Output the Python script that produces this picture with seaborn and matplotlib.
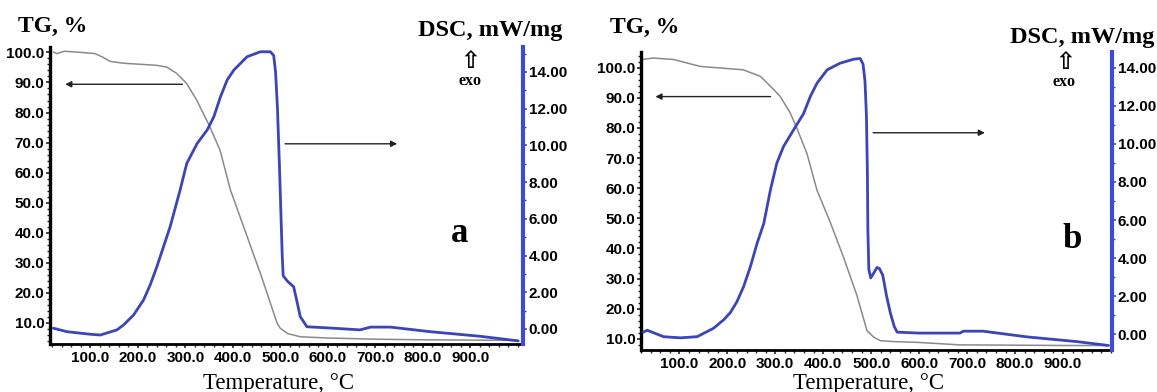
import numpy as np
import pandas as pd
import matplotlib
matplotlib.use("Agg")
import matplotlib.pyplot as plt
from matplotlib.ticker import MultipleLocator, FormatStrFormatter
import seaborn as sns

# ---------------- data ----------------
# Panel a
temp_a_tg = [22, 30, 45, 80, 110, 125, 142, 170, 200, 240, 261, 282, 303, 324, 350,
             373, 395, 430, 460, 493, 500, 515, 542, 600, 700, 800, 900, 1000]
tg_a = [100.1, 99.6, 100.4, 100.0, 99.6, 98.5, 97.0, 96.4, 96.1, 95.7, 95.1, 93.0,
        89.6, 84.1, 75.8, 67.5, 54.2, 38.8, 25.6, 10.0, 8.2, 6.5, 5.4, 5.0, 4.6, 4.4, 4.3, 4.2]

temp_a_dsc = [22, 51, 100, 121, 156, 170, 191, 212, 226, 240, 254, 268, 289, 303, 325,
              346, 360, 374, 388, 402, 430, 458, 479, 486, 490, 494, 498, 501, 504,
              506, 515, 528, 535, 542, 556, 605, 668, 690, 732, 816, 921, 1001]
dsc_a = [0.04, -0.15, -0.29, -0.33, -0.05, 0.22, 0.76, 1.58, 2.4, 3.39, 4.48, 5.57,
         7.57, 9.02, 10.11, 10.84, 11.56, 12.65, 13.56, 14.1, 14.83, 15.1, 15.1, 14.9,
         14.0, 12.0, 9.0, 6.5, 4.0, 2.9, 2.6, 2.3, 1.5, 0.67, 0.12, 0.05, -0.05, 0.1,
         0.1, -0.15, -0.4, -0.65]

# Panel b
temp_b_tg = [22, 46, 88, 144, 233, 269, 290, 310, 331, 345, 366, 387, 415, 442, 470,
             491, 505, 519, 546, 600, 685, 800, 900, 998]
tg_b = [102.7, 103.2, 102.7, 100.4, 99.3, 97.1, 93.8, 90.5, 85.0, 79.9, 71.5, 59.3,
        48.5, 37.2, 24.5, 12.8, 10.6, 9.4, 9.1, 8.8, 8.0, 7.9, 7.8, 7.8]

temp_b_dsc = [25, 33, 67, 102, 137, 171, 192, 206, 220, 234, 248, 262, 276, 290, 303,
              317, 338, 359, 373, 387, 408, 435, 463, 477, 483, 487, 490, 492, 493,
              495, 499, 505, 512, 517, 524, 532, 540, 548, 554, 600, 650, 685, 692,
              733, 825, 929, 994]
dsc_b = [0.1, 0.2, -0.14, -0.2, -0.14, 0.3, 0.74, 1.12, 1.7, 2.5, 3.54, 4.77, 5.82,
         7.6, 8.98, 9.86, 10.74, 11.6, 12.5, 13.2, 13.9, 14.25, 14.46, 14.5, 14.2,
         13.3, 11.5, 8.5, 5.5, 3.4, 2.95, 3.2, 3.5, 3.45, 3.1, 2.0, 1.1, 0.4, 0.1,
         0.05, 0.05, 0.05, 0.15, 0.15, -0.15, -0.4, -0.6]

x_ticks = [100, 200, 300, 400, 500, 600, 700, 800, 900]
tg_ticks = [10, 20, 30, 40, 50, 60, 70, 80, 90, 100]
dsc_ticks = [0, 2, 4, 6, 8, 10, 12, 14]

# arrows: (T_start, T_end, TG level)
arrows_a = [(294, 47, 89.4), (510, 746, 69.6)]
arrows_b = [(290, 50, 90.4), (504, 737, 78.4)]

# ---------------- style ----------------
sns.set_style("white")
plt.rcParams['font.family'] = ['Liberation Sans', 'DejaVu Sans']

W, H = 1157, 392
fig = plt.figure(figsize=(W / 100, H / 100), dpi=100)

GRAY = "#8a8a8a"
BLUE = "#3b45b8"
SPINE_BLUE = "#3f4bd0"
SERIF = ['Liberation Serif', 'DejaVu Serif']


def panel(rect, t_tg, tg, t_dsc, dsc, xlim, tg_lim, dsc_lim, arrows):
    ax = fig.add_axes(rect)
    ax2 = ax.twinx()
    df_tg = pd.DataFrame({"T": t_tg, "TG": tg})
    df_dsc = pd.DataFrame({"T": t_dsc, "DSC": dsc})
    sns.lineplot(data=df_tg, x="T", y="TG", ax=ax, color=GRAY, linewidth=1.1,
                 estimator=None, sort=False)
    sns.lineplot(data=df_dsc, x="T", y="DSC", ax=ax2, color=BLUE, linewidth=2.0,
                 estimator=None, sort=False)
    ax.set_xlim(*xlim)
    ax.set_ylim(*tg_lim)
    ax2.set_ylim(*dsc_lim)
    for a in (ax, ax2):
        a.set_xlabel("")
        a.set_ylabel("")
        a.patch.set_alpha(0)
    ax.set_xticks(x_ticks)
    ax.set_yticks(tg_ticks)
    ax2.set_yticks(dsc_ticks)
    ax.xaxis.set_major_formatter(FormatStrFormatter("%.1f"))
    ax.yaxis.set_major_formatter(FormatStrFormatter("%.1f"))
    ax2.yaxis.set_major_formatter(FormatStrFormatter("%.2f"))
    ax.xaxis.set_minor_locator(MultipleLocator(20))
    ax.yaxis.set_minor_locator(MultipleLocator(2))
    ax2.yaxis.set_minor_locator(MultipleLocator(1))

    for s in ("top", "right"):
        ax.spines[s].set_visible(False)
    ax.spines["left"].set_linewidth(2.4)
    ax.spines["left"].set_color("black")
    ax.spines["bottom"].set_linewidth(2.0)
    ax.spines["bottom"].set_color("black")
    for s in ("top", "left", "bottom"):
        ax2.spines[s].set_visible(False)
    ax2.spines["right"].set_linewidth(3.0)
    ax2.spines["right"].set_color(SPINE_BLUE)

    lab = dict(labelsize=11, labelcolor="black")
    ax.tick_params(axis="x", which="major", direction="out", length=3, width=1.2,
                   pad=2, bottom=True, **lab)
    ax.tick_params(axis="x", which="minor", direction="out", length=2, width=1.0,
                   bottom=True)
    ax.tick_params(axis="y", which="major", direction="out", length=3, width=1.2,
                   pad=1, left=True, **lab)
    ax.tick_params(axis="y", which="minor", direction="out", length=2, width=1.0,
                   left=True)
    ax2.tick_params(axis="y", which="major", direction="out", length=3, width=1.2,
                    pad=1, right=True, color=SPINE_BLUE, **lab)
    ax2.tick_params(axis="y", which="minor", direction="out", length=2, width=1.0,
                    right=True, color=SPINE_BLUE)
    for lbl in ax.get_xticklabels() + ax.get_yticklabels() + ax2.get_yticklabels():
        lbl.set_fontweight("bold")

    for t0, t1, lev in arrows:
        ax.annotate("", xy=(t1, lev), xytext=(t0, lev),
                    arrowprops=dict(arrowstyle="-|>", color="#222222", lw=1.0,
                                    mutation_scale=9, shrinkA=0, shrinkB=0))
    return ax, ax2


def fx(px):
    return px / W


def fy(py):
    return 1 - py / H


# panel a
panel([fx(50), fy(344), fx(523 - 50), (344 - 47) / H],
      temp_a_tg, tg_a, temp_a_dsc, dsc_a,
      (15, 1011), (3.0, 101.8), (-0.82, 15.36), arrows_a)
# panel b
panel([fx(641), fy(350), fx(1112 - 641), (350 - 52) / H],
      temp_b_tg, tg_b, temp_b_dsc, dsc_b,
      (20, 1002), (6.3, 105.2), (-0.84, 14.84), arrows_b)

# texts
labels = [
    # text, x, y, size, weight, family, ha, va
    ("TG, %", 18, 32, 17, "bold", SERIF, "left", "baseline"),
    ("TG, %", 610, 33, 17, "bold", SERIF, "left", "baseline"),
    ("DSC, mW/mg", 418, 36, 17.5, "bold", SERIF, "left", "baseline"),
    ("DSC, mW/mg", 1010, 43, 17.5, "bold", SERIF, "left", "baseline"),
    ("exo", 470, 85, 11.5, "bold", SERIF, "center", "baseline"),
    ("exo", 1064, 86, 11.5, "bold", SERIF, "center", "baseline"),
    ("a", 460, 242, 25, "bold", SERIF, "center", "baseline"),
    ("b", 1072, 248, 25, "bold", SERIF, "center", "baseline"),
    ("Temperature, °C", 203, 389, 16.5, "normal", SERIF, "left", "baseline"),
    ("Temperature, °C", 793, 389, 16.5, "normal", SERIF, "left", "baseline"),
]
for txt, x, y, size, weight, fam, ha, va in labels:
    fig.text(fx(x), fy(y), txt, fontsize=size, fontweight=weight, family=fam,
             ha=ha, va=va, color="black")

for x, y in [(470, 61), (1065, 62)]:
    fig.text(fx(x), fy(y), "⇧", fontsize=17, fontweight="bold",
             family=['DejaVu Sans'], ha="center", va="center", color="black")

fig.savefig("out.png", dpi=100)
